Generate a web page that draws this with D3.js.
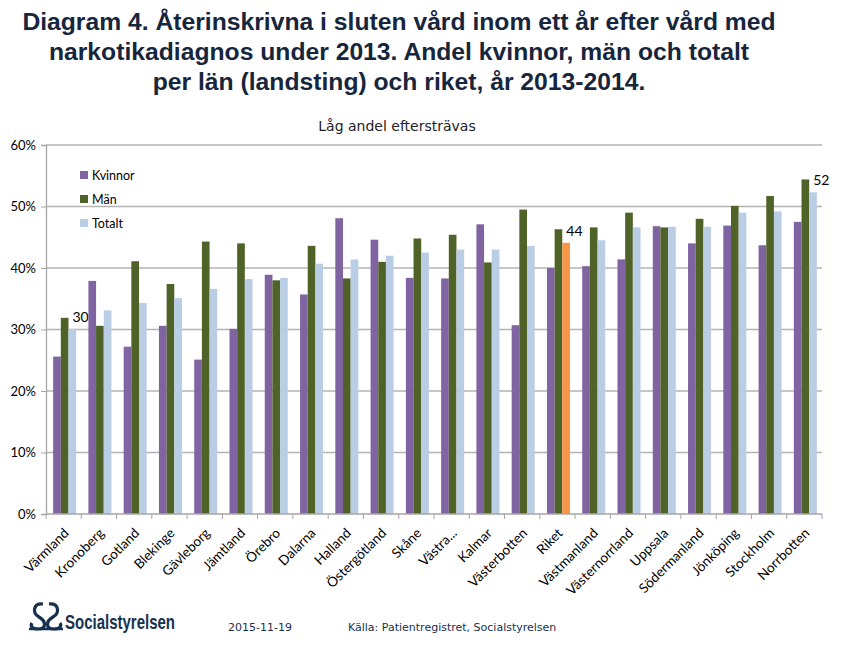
<!DOCTYPE html>
<html><head><meta charset="utf-8">
<script src="https://cdn.jsdelivr.net/npm/d3@7/dist/d3.min.js"></script>
<style>body{margin:0;background:#fff}svg{display:block}</style>
</head><body>
<svg id="c" width="856" height="651"></svg>
<script>
const categories = ["Värmland","Kronoberg","Gotland","Blekinge","Gävleborg","Jämtland","Örebro","Dalarna","Halland","Östergötland","Skåne","Västra...","Kalmar","Västerbotten","Riket","Västmanland","Västernorrland","Uppsala","Södermanland","Jönköping","Stockholm","Norrbotten"];
const kvinnor = [25.6,37.9,27.2,30.6,25.1,30.1,38.9,35.7,48.1,44.6,38.4,38.3,47.1,30.7,40.0,40.3,41.4,46.8,44.0,46.9,43.7,47.5];
const man     = [31.9,30.6,41.1,37.4,44.3,44.0,38.0,43.6,38.3,41.0,44.8,45.4,40.9,49.5,46.3,46.6,49.0,46.6,48.0,50.1,51.7,54.4];
const totalt  = [30.1,33.1,34.3,35.1,36.6,38.2,38.4,40.7,41.4,42.0,42.5,43.0,43.0,43.6,44.1,44.5,46.6,46.7,46.7,49.0,49.2,52.3];
const seriesNames = ["Kvinnor","Män","Totalt"];
const yTicks = [0,10,20,30,40,50,60];
const labelled = {"Värmland":"30","Riket":"44","Norrbotten":"52"};
const colors = ["#8064a2","#4f6228","#b9cde5"];
const riketColor = "#f79646";

const svg = d3.select("#c");
const m = {l:46, r:822, t:145, b:514};
const x = d3.scaleBand().domain(categories).range([m.l, m.r]).paddingInner(0).paddingOuter(0);
const y = d3.scaleLinear().domain([0,60]).range([m.b, m.t]);
const xs = d3.scaleBand().domain(seriesNames).range([1, x.bandwidth()+1]).paddingInner(0).paddingOuter(0.8);

// title
const title = ["Diagram 4. Återinskrivna i sluten vård inom ett år efter vård med",
  "narkotikadiagnos under 2013. Andel kvinnor, män och totalt",
  "per län (landsting) och riket, år 2013-2014."];
svg.append("g").selectAll("text").data(title).join("text")
  .attr("x", 399).attr("y", (d,i)=>30+i*30).attr("text-anchor","middle")
  .attr("font-family","'Liberation Sans Narrow', 'Arial Narrow', sans-serif")
  .attr("font-weight","bold").attr("font-size",24.7).attr("fill","#17263c").text(d=>d);

svg.append("text").attr("x",397).attr("y",131).attr("text-anchor","middle")
  .attr("font-family","'DejaVu Sans', sans-serif").attr("font-size",14).attr("fill","#222")
  .text("Låg andel eftersträvas");

// grid
svg.append("g").selectAll("line").data(yTicks.slice(1)).join("line")
  .attr("x1",m.l).attr("x2",m.r).attr("y1",d=>y(d)).attr("y2",d=>y(d))
  .attr("stroke","#b3b3b3").attr("stroke-width",1.3);

// y axis
const ya = svg.append("g").attr("transform",`translate(${m.l},0)`)
  .call(d3.axisLeft(y).tickValues(yTicks).tickFormat(d=>d+"%").tickSize(5));
ya.select(".domain").attr("stroke","#a6a6a6").attr("stroke-width",1.3);
ya.selectAll(".tick line").attr("stroke","#a6a6a6");
ya.selectAll("text").attr("font-family","Lato, sans-serif").attr("font-size",13).attr("fill","#000").attr("x",-10);

// bars
const data = categories.map((c,i)=>({c, v:[kvinnor[i],man[i],totalt[i]]}));
const groups = svg.append("g").selectAll("g").data(data).join("g")
  .attr("transform",d=>`translate(${x(d.c)},0)`);
groups.selectAll("rect").data(d=>d.v.map((v,j)=>({c:d.c, s:seriesNames[j], j, v}))).join("rect")
  .attr("x",d=>xs(d.s)).attr("width",xs.bandwidth())
  .attr("y",d=>y(d.v)).attr("height",d=>y(0)-y(d.v))
  .attr("fill",d=> (d.c==="Riket" && d.j===2) ? riketColor : colors[d.j]);

// data labels
groups.filter(d=>labelled[d.c]).append("text")
  .attr("x",d=>xs("Totalt")+4)
  .attr("y",d=>y(d.v[2])-7)
  .attr("font-family","Lato, sans-serif").attr("font-size",14).attr("fill","#000")
  .text(d=>labelled[d.c]);

// x axis
const xa = svg.append("g").attr("transform",`translate(0,${m.b})`);
xa.append("line").attr("x1",m.l).attr("x2",m.r).attr("stroke","#a6a6a6").attr("stroke-width",1.3);
xa.selectAll("line.t").data(categories.concat(["__end"])).join("line").attr("class","t")
  .attr("x1",(d,i)=>m.l+i*x.bandwidth()).attr("x2",(d,i)=>m.l+i*x.bandwidth())
  .attr("y1",0).attr("y2",5).attr("stroke","#a6a6a6");
xa.selectAll("text").data(categories).join("text")
  .attr("transform",d=>`translate(${x(d)+x.bandwidth()/2+6},${20}) rotate(-45)`)
  .attr("text-anchor","end")
  .attr("font-family","Lato, sans-serif").attr("font-size",13.5).attr("fill","#000").text(d=>d);

// legend
const lg = svg.append("g").selectAll("g").data(seriesNames).join("g")
  .attr("transform",(d,i)=>`translate(80,${171+i*24})`);
lg.append("rect").attr("width",8).attr("height",8).attr("fill",(d,i)=>colors[i]);
lg.append("text").attr("x",12).attr("y",8.5).attr("font-family","Lato, sans-serif")
  .attr("font-size",12.5).attr("fill","#000").text(d=>d);

// footer
const navy = "#17324f";
const logo = svg.append("g").attr("transform","translate(29,602)").attr("fill","none").attr("stroke",navy).attr("stroke-width",3.2);
logo.append("path").attr("d","M14,2 C4,1 3,11 10,15 C17,19 18,27 9,27 C3,27 1,24 3,21");
logo.append("path").attr("d","M20,2 C30,1 31,11 24,15 C17,19 16,27 25,27 C31,27 33,24 31,21");
logo.append("path").attr("d","M0,27 L34,27").attr("stroke-width",2.4);
svg.append("text").attr("x",65).attr("y",629).attr("font-family","'Liberation Sans Narrow', sans-serif")
  .attr("font-weight","bold").attr("font-size",21).attr("fill",navy)
  .attr("textLength",110).attr("lengthAdjust","spacingAndGlyphs").text("Socialstyrelsen");
svg.append("text").attr("x",228).attr("y",631).attr("font-family","'DejaVu Sans', sans-serif")
  .attr("font-size",11).attr("fill",navy).text("2015-11-19");
svg.append("text").attr("x",348).attr("y",631).attr("font-family","'DejaVu Sans', sans-serif")
  .attr("font-size",11).attr("fill",navy).text("Källa: Patientregistret, Socialstyrelsen");
</script>
</body></html>
